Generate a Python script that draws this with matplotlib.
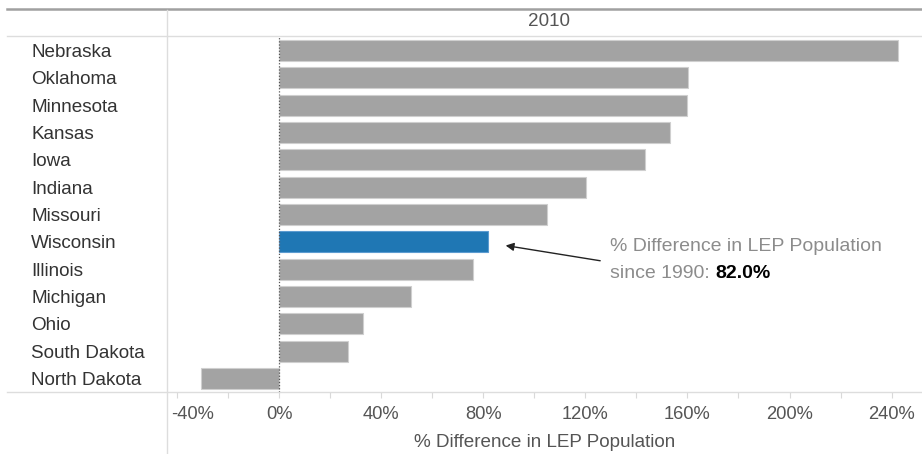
import matplotlib
matplotlib.use("Agg")
import matplotlib.pyplot as plt
import matplotlib.transforms as mtransforms
from matplotlib.lines import Line2D

plt.rcParams['font.family'] = ['Liberation Sans', 'DejaVu Sans']

# data (% difference in LEP population since 1990)
states = ["Nebraska", "Oklahoma", "Minnesota", "Kansas", "Iowa", "Indiana", "Missouri",
          "Wisconsin", "Illinois", "Michigan", "Ohio", "South Dakota", "North Dakota"]
pct_diff = [242.6, 160.1, 159.7, 153.0, 143.4, 120.3, 105.0, 82.0, 76.0, 51.7, 33.0, 26.9, -30.4]
highlight = "Wisconsin"
year = "2010"
xticks = [-40, -20, 0, 20, 40, 60, 80, 100, 120, 140, 160, 180, 200, 220, 240]

W, H = 922, 454
fig = plt.figure(figsize=(W / 100, H / 100), dpi=100)

# plot area in pixels
left, right, top, bottom = 167, 922, 37, 392
ax = fig.add_axes([left / W, (H - bottom) / H, (right - left) / W, (bottom - top) / H])

gray = "#a3a3a3"
blue = "#1f77b4"
colors = [blue if s == highlight else gray for s in states]
edges = ["#5b9bd0" if s == highlight else "#cfcfcf" for s in states]
ypos = list(range(len(states)))
ax.barh(ypos, pct_diff, height=0.77, color=colors, edgecolor=edges, linewidth=0.8, zorder=2)

ax.set_xlim(-43.9, 251.9)
ax.set_ylim(len(states) - 0.5, -0.5)

# zero reference line
ax.axvline(0, color="#555555", linestyle=(0, (1, 1.5)), linewidth=0.9, zorder=3)

for sp in ax.spines.values():
    sp.set_visible(False)

fs = 13.6

# y labels: left aligned at x=31px
ax.set_yticks(ypos)
ax.set_yticklabels(states, fontsize=fs, color="#333333", ha="left")
ax.tick_params(axis="y", length=0, pad=(left - 31) * 0.72)

# x ticks every 20%, labels every 40%
ax.set_xticks(xticks)
ax.set_xticklabels([f"{t}%" if t % 40 == 0 else "" for t in xticks], fontsize=13.2, color="#555555")
ax.tick_params(axis="x", length=4, color="#d9d9d9", pad=6)
ax.set_xlabel("% Difference in LEP Population", fontsize=fs, color="#555555", labelpad=8)

# shift the clipped -40% label to the right like the original
lbl = ax.get_xticklabels()[0]
lbl.set_transform(lbl.get_transform() + mtransforms.ScaledTranslation(16 / 100, 0, fig.dpi_scale_trans))

# annotation
t1 = ax.text(129.7, 7.19, "% Difference in LEP Population", fontsize=14, color="#8c8c8c",
             ha="left", va="center")
t2 = ax.text(129.7, 8.15, "since 1990: ", fontsize=14, color="#8c8c8c", ha="left", va="center")
ax.annotate("82.0%", xy=(1, 0), xycoords=t2, ha="left", va="bottom", fontsize=14,
            fontweight="bold", color="black")
ax.annotate("", xy=(87.7, 7.12), xytext=(126.9, 7.71),
            arrowprops=dict(arrowstyle="-|>", color="#222222", lw=1.0, mutation_scale=12))

# header and frame lines
def fx(px):
    return px / W

def fy(py):
    return 1 - py / H

fig.add_artist(Line2D([fx(7), fx(922)], [fy(9), fy(9)], color="#a0a0a0", linewidth=1.8))
fig.add_artist(Line2D([fx(7), fx(922)], [fy(36), fy(36)], color="#dddddd", linewidth=1.0))
fig.add_artist(Line2D([fx(7), fx(922)], [fy(392), fy(392)], color="#dddddd", linewidth=1.0))
fig.add_artist(Line2D([fx(167), fx(167)], [fy(10), fy(454)], color="#dddddd", linewidth=1.0))
fig.text(fx(549), fy(22), year, fontsize=fs, color="#555555", ha="center", va="center")

fig.savefig("out.png", dpi=100)
